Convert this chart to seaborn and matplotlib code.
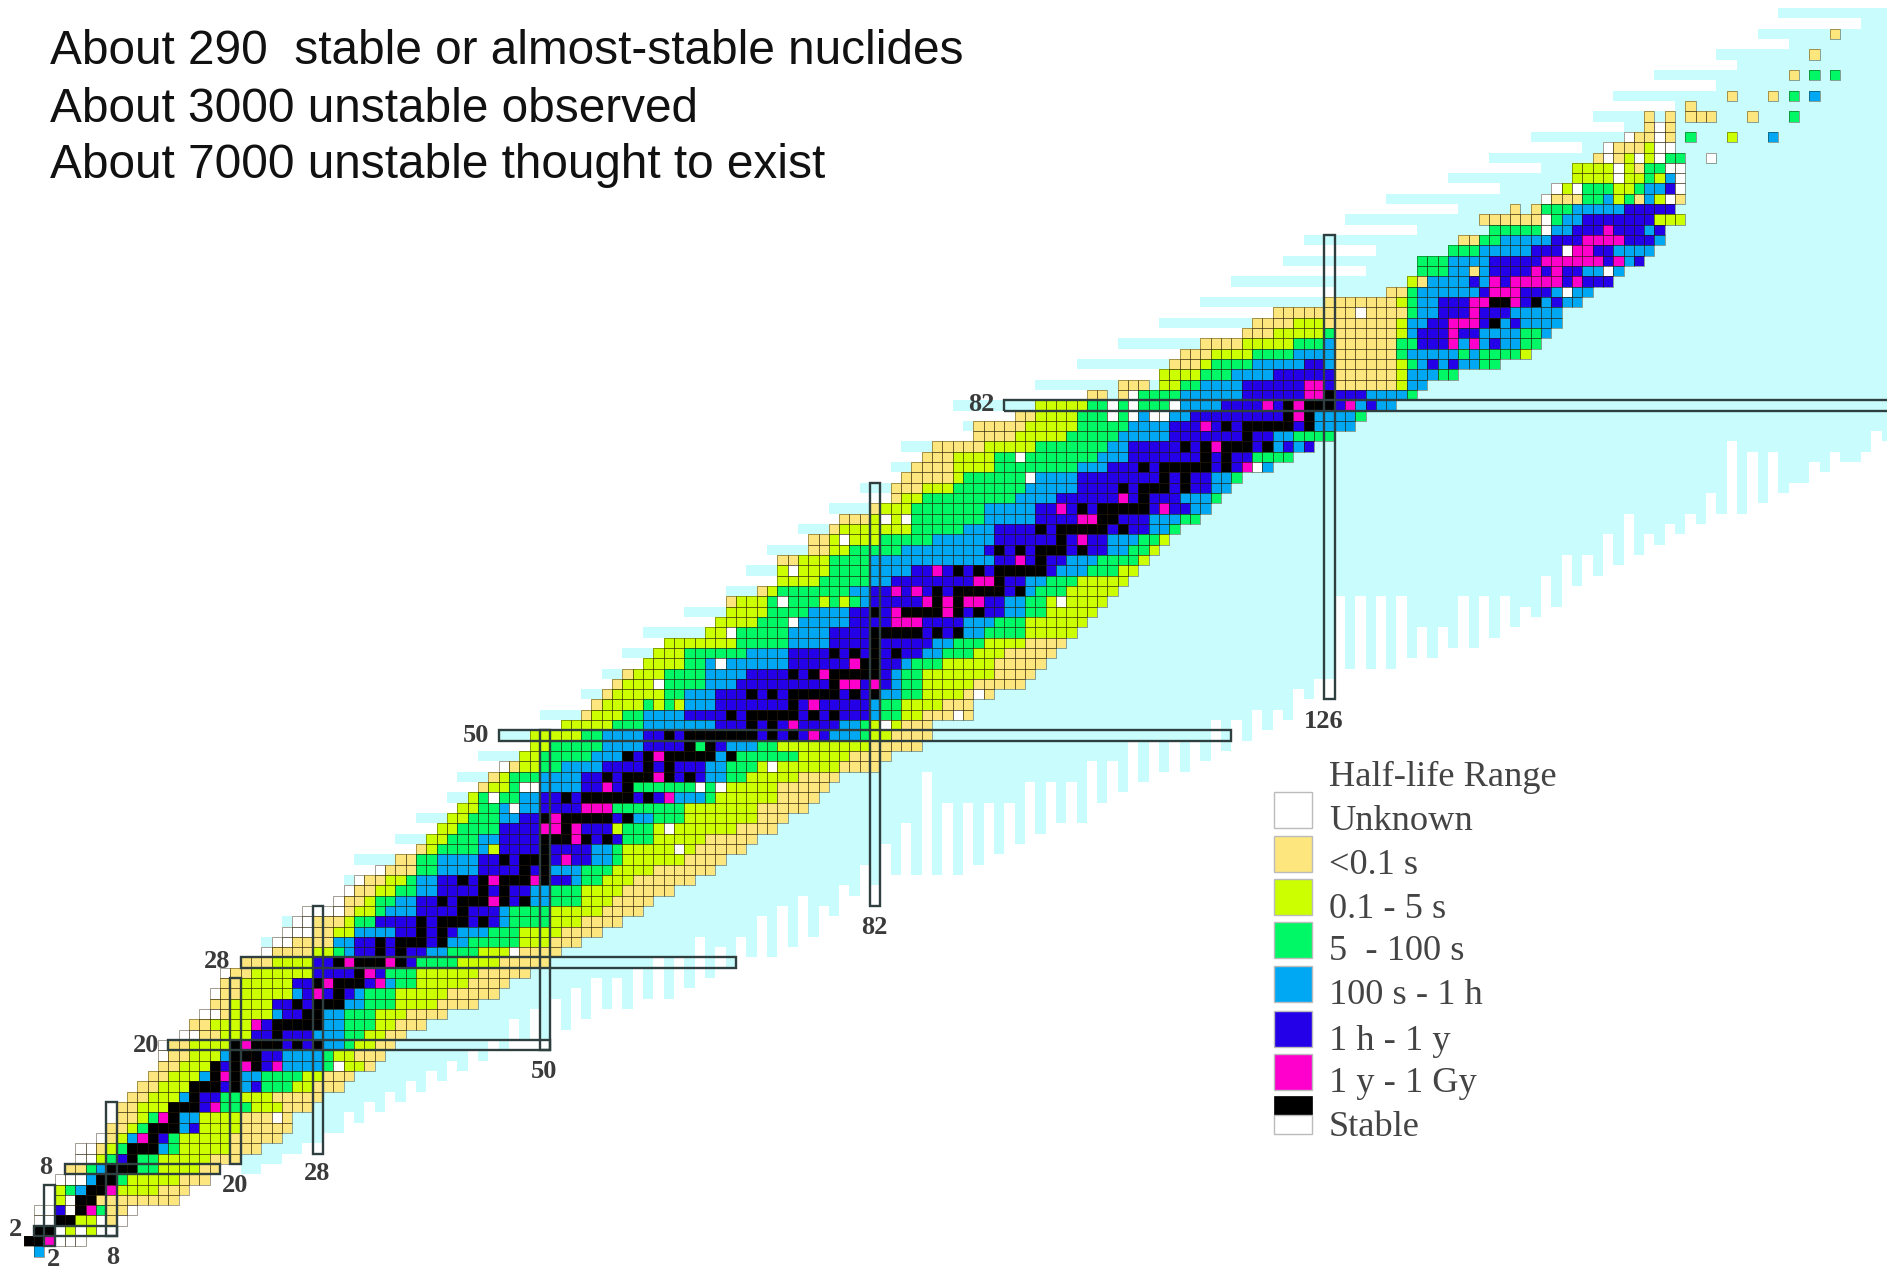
# Chart of the nuclides, coloured by half-life range
import numpy as np
import pandas as pd
import seaborn as sns
import matplotlib
matplotlib.use("Agg")
import matplotlib.pyplot as plt
from matplotlib.collections import LineCollection
from matplotlib.colors import ListedColormap
from matplotlib.patches import Rectangle

# Half-life classes
legend_labels = ["Unknown", "<0.1 s", "0.1 - 5 s", "5  - 100 s", "100 s - 1 h",
                 "1 h - 1 y", "1 y - 1 Gy", "Stable"]
class_colors = ["#ffffff", "#fde67e", "#ccff00", "#00f766", "#00a8f4",
                "#2400e8", "#ff00cc", "#000000"]
class_chars = "uylgbimk"

# Band edges in N, one row per Z:
# unknown, yellow, lime, green, blue, indigo | blue, green, lime, yellow, unknown, end
edges_z01_20 = [
    [0, 0, 0, 0, 0, 0, 0, 0, 0, 0, 3, 6],
    [1, 1, 1, 1, 1, 1, 3, 3, 3, 7, 7, 9],
    [1, 3, 3, 3, 3, 3, 5, 5, 5, 7, 9, 10],
    [1, 3, 3, 3, 3, 3, 7, 7, 8, 8, 10, 11],
    [3, 3, 3, 5, 5, 5, 7, 7, 7, 7, 15, 15],
    [3, 3, 3, 4, 5, 6, 9, 9, 9, 13, 16, 16],
    [3, 6, 6, 6, 6, 7, 9, 9, 10, 15, 18, 18],
    [4, 4, 6, 6, 7, 8, 11, 11, 13, 17, 19, 19],
    [5, 7, 7, 8, 9, 9, 11, 11, 13, 18, 21, 21],
    [5, 7, 8, 9, 10, 10, 13, 14, 15, 20, 23, 23],
    [7, 8, 9, 10, 10, 11, 14, 14, 15, 20, 25, 25],
    [8, 8, 10, 11, 12, 12, 17, 17, 17, 21, 26, 26],
    [9, 9, 11, 12, 13, 13, 15, 17, 17, 21, 26, 26],
    [9, 9, 11, 14, 14, 14, 19, 19, 22, 25, 28, 28],
    [10, 10, 12, 15, 15, 16, 19, 19, 21, 24, 29, 29],
    [11, 11, 13, 16, 16, 16, 23, 23, 26, 28, 31, 31],
    [12, 12, 14, 17, 17, 18, 21, 23, 27, 29, 32, 32],
    [13, 13, 15, 18, 18, 18, 25, 29, 31, 33, 34, 34],
    [13, 14, 16, 19, 19, 20, 25, 29, 30, 32, 35, 35],
    [13, 14, 16, 20, 20, 20, 29, 31, 32, 34, 36, 36],
]
edges_z21_50 = [
    [15, 17, 19, 22, 22, 22, 28, 31, 33, 35, 37, 37],
    [16, 16, 18, 22, 22, 22, 29, 31, 34, 36, 39, 39],
    [17, 19, 20, 24, 24, 25, 29, 31, 34, 37, 41, 41],
    [18, 18, 20, 24, 24, 24, 31, 33, 36, 40, 44, 44],
    [18, 19, 21, 26, 26, 27, 32, 33, 36, 41, 46, 46],
    [19, 19, 21, 26, 26, 26, 35, 36, 38, 43, 47, 47],
    [19, 20, 22, 28, 28, 28, 35, 35, 38, 44, 49, 49],
    [21, 21, 24, 28, 28, 28, 38, 38, 42, 46, 51, 51],
    [23, 24, 28, 30, 31, 32, 39, 41, 44, 48, 52, 52],
    [24, 26, 30, 30, 30, 32, 41, 43, 48, 51, 54, 54],
    [25, 28, 30, 32, 32, 36, 42, 45, 48, 52, 56, 56],
    [26, 28, 31, 32, 34, 34, 46, 47, 51, 54, 58, 58],
    [27, 31, 32, 34, 35, 38, 46, 47, 51, 56, 60, 60],
    [30, 31, 33, 34, 36, 38, 49, 51, 54, 57, 61, 61],
    [31, 32, 34, 36, 38, 40, 49, 51, 54, 58, 63, 63],
    [32, 33, 35, 37, 38, 40, 53, 54, 56, 59, 65, 65],
    [34, 35, 38, 38, 40, 44, 51, 54, 57, 61, 67, 67],
    [36, 36, 38, 38, 40, 44, 55, 57, 58, 64, 68, 68],
    [38, 38, 39, 40, 44, 46, 55, 57, 58, 65, 70, 70],
    [39, 39, 39, 41, 44, 46, 58, 58, 61, 66, 71, 71],
    [40, 40, 40, 42, 46, 46, 57, 57, 61, 69, 73, 73],
    [41, 41, 41, 43, 46, 48, 59, 61, 64, 71, 74, 74],
    [42, 42, 42, 44, 46, 50, 57, 57, 64, 71, 76, 76],
    [43, 43, 43, 44, 48, 50, 63, 66, 67, 73, 77, 77],
    [44, 44, 45, 47, 50, 54, 60, 60, 68, 73, 78, 78],
    [45, 45, 46, 47, 50, 54, 66, 68, 70, 75, 79, 79],
    [46, 47, 48, 50, 52, 56, 66, 68, 71, 79, 83, 83],
    [48, 48, 48, 50, 55, 58, 67, 69, 75, 80, 84, 84],
    [49, 49, 49, 51, 56, 60, 68, 71, 73, 82, 87, 87],
    [49, 49, 49, 54, 56, 60, 78, 81, 82, 84, 88, 88],
]
edges_z51_83 = [
    [52, 52, 52, 57, 60, 67, 79, 81, 82, 85, 88, 88],
    [54, 54, 55, 58, 60, 64, 82, 83, 85, 87, 92, 92],
    [55, 55, 56, 60, 64, 67, 82, 83, 85, 89, 92, 92],
    [56, 56, 57, 62, 64, 67, 83, 85, 87, 91, 94, 94],
    [57, 57, 58, 62, 66, 69, 84, 85, 87, 92, 97, 97],
    [58, 58, 59, 62, 66, 70, 84, 85, 87, 94, 98, 98],
    [60, 60, 60, 64, 66, 74, 85, 86, 89, 94, 99, 99],
    [61, 61, 61, 64, 70, 74, 87, 89, 92, 95, 100, 100],
    [62, 62, 62, 69, 74, 78, 88, 90, 93, 97, 101, 101],
    [66, 66, 66, 69, 74, 78, 91, 93, 97, 102, 102, 102],
    [67, 67, 67, 71, 75, 80, 91, 94, 97, 103, 103, 103],
    [68, 68, 68, 72, 76, 80, 95, 97, 99, 104, 104, 104],
    [68, 68, 69, 72, 81, 82, 95, 97, 99, 105, 105, 105],
    [71, 71, 72, 73, 80, 82, 96, 98, 101, 106, 106, 106],
    [73, 73, 73, 77, 82, 84, 97, 99, 102, 107, 107, 107],
    [73, 73, 73, 78, 82, 86, 100, 103, 106, 108, 108, 108],
    [73, 73, 75, 78, 82, 94, 101, 104, 108, 109, 109, 109],
    [76, 76, 78, 80, 85, 93, 105, 107, 109, 110, 110, 110],
    [76, 76, 78, 83, 88, 94, 105, 108, 110, 111, 111, 111],
    [78, 78, 79, 86, 91, 94, 109, 111, 112, 112, 112, 112],
    [79, 79, 82, 86, 93, 98, 109, 112, 114, 114, 114, 114],
    [82, 82, 83, 86, 93, 98, 113, 115, 115, 115, 115, 115],
    [84, 84, 85, 87, 96, 100, 112, 115, 116, 116, 116, 116],
    [84, 84, 87, 90, 97, 102, 115, 117, 117, 117, 117, 117],
    [85, 85, 90, 91, 98, 102, 115, 117, 118, 118, 118, 118],
    [86, 86, 90, 94, 102, 105, 119, 121, 121, 121, 121, 121],
    [87, 87, 90, 94, 104, 107, 119, 119, 123, 123, 123, 123],
    [88, 88, 93, 98, 105, 107, 125, 125, 125, 125, 125, 125],
    [92, 92, 96, 101, 106, 111, 121, 123, 127, 127, 127, 127],
    [92, 92, 97, 102, 107, 111, 124, 129, 129, 129, 129, 129],
    [96, 96, 98, 102, 107, 113, 124, 129, 130, 130, 130, 130],
    [98, 98, 98, 103, 112, 116, 131, 133, 133, 133, 133, 133],
    [106, 106, 107, 108, 112, 118, 130, 134, 135, 135, 135, 135],
]

# Above lead the pattern breaks up, so these rows are cell by cell: Z, first N, classes
rows_z84_up = [
    (84, 106, "yyy.llggbbbbiiiiiimmiyyyyyylbb"),
    (85, 110, "llllgggbbbbiiiiiiyyyyyylbbbgg"),
    (86, 111, "yyylggggbbbbbiibyyyyyylgbibibbgg"),
    (87, 112, "yyyllllggggbbbbyyyyyygbbbbbgbggggl"),
    (88, 114, "yyyylllllgggbyyyyyyggiiimbmbibbgg"),
    (89, 118, "yyylllllgyyyyyylbiiimiibbbbggb"),
    (90, 119, "yyyylllyyyyyyylbbiimmmikbibbbb"),
    (91, 121, "yyyyyyyyuyyyygbbiiimiiibbbbb"),
    (92, 126, "yyyyyyylgbbiiimmkkmikbibb"),
    (93, 132, "yygbbbbbbimmmiiibubb"),
    (94, 134, "lybbbbibmimmmmmimiii"),
    (95, 135, "gggbbybiiiimimiibbub"),
    (96, 135, "gggbbbbiiiiimmmmmmimbi"),
    (97, 138, "gggbbbbbiiiummiibbbb"),
    (98, 139, "yyggbbbbbiiimmmmiiib"),
    (99, 142, "gggggubbiiimiiibi"),
    (100, 141, "yyyyyyugbbiiiiiiilll"),
    (101, 144, "y.ygggbbbbbiiiii"),
    (102, 147, "uyyyggblgybluy"),
    (103, 148, "ulugggllgbbiu"),
    (104, 150, "llllullglbu"),
    (105, 150, "llllulygguu"),
    (106, 152, "yuylulugg"),
    (106, 163, "u"),
    (107, 153, "uyyyluu"),
    (108, 155, "uyyuy"),
    (108, 161, "g"),
    (108, 165, "l"),
    (108, 169, "b"),
    (109, 157, "yuy"),
    (110, 157, "y.y"),
    (110, 161, "yyy"),
    (110, 167, "y"),
    (110, 171, "g"),
    (111, 161, "y"),
    (112, 165, "y"),
    (112, 169, "y"),
    (112, 171, "g"),
    (112, 173, "b"),
    (114, 171, "y"),
    (114, 173, "g"),
    (114, 175, "g"),
    (116, 173, "y"),
    (118, 175, "y"),
]

# Stable nuclides, N values by Z
stable_n = {
    1: [0, 1], 2: [1, 2], 3: [3, 4], 4: [5], 5: [5, 6], 6: [6, 7], 7: [7, 8],
    8: [8, 9, 10], 9: [10], 10: [10, 11, 12], 11: [12], 12: [12, 13, 14],
    13: [14], 14: [14, 15, 16], 15: [16], 16: [16, 17, 18, 20], 17: [18, 20],
    18: [18, 20, 22], 19: [20, 21, 22], 20: [20, 22, 23, 24, 26, 28], 21: [24],
    22: [24, 25, 26, 27, 28], 23: [27, 28], 24: [26, 28, 29, 30], 25: [30],
    26: [28, 30, 31, 32], 27: [32], 28: [30, 32, 33, 34, 36], 29: [34, 36],
    30: [34, 36, 37, 38, 40], 31: [38, 40], 32: [38, 40, 41, 42, 44], 33: [42],
    34: [40, 42, 43, 44, 46, 48], 35: [44, 46], 36: [42, 44, 46, 47, 48, 50],
    37: [48, 50], 38: [46, 48, 49, 50], 39: [50], 40: [50, 51, 52, 54, 56],
    41: [52], 42: [50, 52, 53, 54, 55, 56, 58], 44: [52, 54, 55, 56, 57, 58, 60],
    45: [58], 46: [56, 58, 59, 60, 62, 64], 47: [60, 62],
    48: [58, 60, 62, 63, 64, 65, 66, 68], 49: [64, 66],
    50: [62, 64, 65, 66, 67, 68, 69, 70, 72, 74], 51: [70, 72],
    52: [68, 70, 71, 72, 73, 74, 76, 78], 53: [74],
    54: [70, 72, 74, 75, 76, 77, 78, 80, 82], 55: [78],
    56: [74, 76, 78, 79, 80, 81, 82], 57: [81, 82], 58: [78, 80, 82, 84], 59: [82],
    60: [82, 83, 84, 85, 86, 88, 90], 62: [82, 85, 86, 87, 88, 90, 92], 63: [88, 90],
    64: [88, 90, 91, 92, 93, 94, 96], 65: [94], 66: [90, 92, 94, 95, 96, 97, 98],
    67: [98], 68: [94, 96, 98, 99, 100, 102], 69: [100],
    70: [98, 100, 101, 102, 103, 104, 106], 71: [104, 105],
    72: [102, 104, 105, 106, 107, 108], 73: [108], 74: [106, 108, 109, 110, 112],
    75: [110, 112], 76: [108, 110, 111, 112, 113, 114, 116], 77: [114, 116],
    78: [112, 114, 116, 117, 118, 120], 79: [118], 80: [116, 118, 119, 120, 121, 122, 124],
    81: [122, 124], 82: [122, 124, 125, 126], 83: [126], 90: [142],
    92: [142, 143, 146],
}

# Single cells that break the bands, as (Z, N)
magenta_cells = [
    (1, 2), (4, 6), (6, 8), (11, 11), (13, 13), (14, 18), (17, 19), (18, 21),
    (18, 24), (20, 21), (22, 22), (25, 28), (26, 29), (26, 34), (27, 33), (28, 31),
    (28, 35), (34, 45), (36, 45), (36, 49), (38, 52), (40, 53), (41, 50), (41, 51),
    (41, 53), (42, 51), (43, 54), (43, 55), (43, 56), (44, 62), (45, 56), (46, 61),
    (48, 61), (50, 76), (51, 74), (53, 76), (55, 79), (55, 80), (55, 82), (56, 77),
    (57, 80), (61, 84), (61, 85), (61, 86), (62, 84), (62, 89), (63, 87), (63, 89),
    (63, 91), (63, 92), (64, 84), (64, 86), (65, 92), (65, 93), (66, 88), (67, 96),
    (69, 102), (71, 102), (71, 103), (72, 100), (72, 110), (73, 106), (76, 118),
    (78, 112), (78, 115), (80, 114), (81, 123), (82, 120), (82, 123), (82, 128),
    (83, 124), (83, 125),
]
unknown_cells = [
    (2, 3), (2, 5), (3, 7), (4, 4), (5, 4), (13, 24), (18, 30), (29, 47), (39, 63),
    (41, 62), (43, 47), (44, 45), (45, 48), (45, 49), (45, 65), (45, 67), (52, 90),
    (47, 72), (51, 83), (54, 92), (55, 61), (57, 67), (60, 68), (61, 74),
    (63, 73), (63, 100), (66, 74), (69, 79), (71, 83), (71, 85), (75, 97), (76, 119),
    (77, 96), (81, 105), (81, 107), (81, 109), (81, 110), (82, 105), (82, 107),
    (82, 111), (83, 107),
]
blue_cells = [(0, 1), (12, 15), (16, 21), (78, 121), (78, 123), (82, 129)]
green_cells = [(43, 57), (45, 59), (49, 65)]
lime_cells = [(39, 45), (41, 57), (53, 61), (53, 63), (63, 77), (63, 79)]
yellow_cells = [(83, 103), (83, 104)]

# Pale region of nuclides thought to exist: first N per Z (Z = 1..120)
cyan_first_n = [
    3, 3, 1, 1, 3, 3, 3, 4, 5, 5, 7, 8, 9, 9, 10, 11, 12, 10, 13, 12,
    15, 15, 17, 16, 18, 18, 19, 20, 23, 23, 25, 25, 27, 30, 31, 31, 34, 32, 38, 36,
    40, 38, 42, 41, 44, 42, 46, 44, 49, 46, 52, 50, 55, 54, 57, 56, 60, 58, 62, 60,
    67, 64, 68, 68, 73, 70, 73, 72, 76, 75, 79, 78, 84, 81, 85, 84, 87, 85, 92, 91,
    96, 90, 103, 98, 110, 102, 112, 106, 118, 110, 121, 114, 127, 117, 130, 122,
    131, 124, 135, 128, 139, 132, 143, 138, 147, 142, 151, 146, 155, 152, 160, 154,
    164, 158, 166, 164, 171, 168, 178, 170,
]
# and its lowest Z per N (N = 21..180)
cyan_lowest_z = [
    8, 8, 9, 9, 10, 10, 11, 11, 12, 12,
    14, 13, 15, 14, 16, 15, 17, 16, 18, 17,
    19, 18, 20, 19, 21, 20, 23, 21, 24, 21,
    25, 22, 26, 23, 27, 24, 27, 24, 28, 25,
    29, 25, 29, 26, 31, 27, 30, 28, 31, 29,
    33, 29, 34, 30, 35, 31, 34, 33, 36, 35,
    38, 36, 40, 37, 42, 37, 47, 37, 44, 37,
    44, 38, 44, 39, 44, 40, 46, 41, 46, 42,
    46, 42, 48, 44, 48, 45, 50, 46, 50, 47,
    50, 47, 50, 48, 52, 49, 52, 50, 53, 51,
    53, 52, 55, 54, 56, 56, 64, 57, 64, 57,
    64, 57, 64, 58, 61, 58, 61, 59, 64, 59,
    64, 60, 64, 61, 63, 62, 66, 63, 68, 65,
    68, 66, 70, 67, 72, 68, 70, 69, 71, 70,
    72, 71, 74, 72, 79, 72, 78, 73, 78, 74,
    75, 75, 77, 76, 78, 77, 77, 78, 80, 79,
]

# Magic number boxes: magic number, start, end of the long side
magic_rows = [(2, 1, 9), (8, 4, 19), (20, 14, 51), (28, 21, 69), (50, 46, 117), (82, 95, 183)]
magic_cols = [(2, 1, 7), (8, 2, 15), (20, 9, 27), (28, 10, 34), (50, 20, 51), (82, 34, 75), (126, 54, 99)]

# Labels of the boxes, centre in pixels
magic_labels = [("82", 981, 402), ("50", 476, 733), ("28", 217, 959), ("20", 146, 1042),
                ("8", 46, 1165), ("2", 16, 1227), ("126", 1324, 718), ("82", 874, 924),
                ("50", 544, 1069), ("28", 317, 1171), ("20", 235, 1183), ("8", 113, 1254),
                ("2", 53, 1256)]
header_lines = ["About 290  stable or almost-stable nuclides",
                "About 3000 unstable observed",
                "About 7000 unstable thought to exist"]

W, H = 1887, 1274
N_SIZE, Z_SIZE = 184, 123

# Build the class grid
grid = np.full((Z_SIZE, N_SIZE), np.nan)
band_order = [0, 1, 2, 3, 4, 5, 4, 3, 2, 1, 0]
for z, row in enumerate(edges_z01_20 + edges_z21_50 + edges_z51_83, start=1):
    for i, cls in enumerate(band_order):
        grid[z, row[i]:row[i + 1]] = cls
for z, first_n, cells in rows_z84_up:
    for k, ch in enumerate(cells):
        if ch != ".":
            grid[z, first_n + k] = class_chars.index(ch)
for cells, cls in [(yellow_cells, 1), (lime_cells, 2), (green_cells, 3), (blue_cells, 4),
                   (unknown_cells, 0), (magenta_cells, 6)]:
    for z, n in cells:
        grid[z, n] = cls
for z, ns in stable_n.items():
    for n in ns:
        grid[z, n] = 7

# Pale background layer
pale = np.zeros((Z_SIZE, N_SIZE), dtype=bool)
for z, first_n in enumerate(cyan_first_n, start=1):
    for n, low in enumerate(cyan_lowest_z, start=21):
        if n >= first_n and z >= low:
            pale[z, n] = True
    pale[z, 181:] = pale[z, 180]

fig = plt.figure(figsize=(W / 100, H / 100), dpi=100)
ax = fig.add_axes([0, 0, 1, 1])

sns.heatmap(pd.DataFrame(pale.astype(float)), mask=~pale, cmap=ListedColormap(["#c9fdfd"]),
            cbar=False, xticklabels=False, yticklabels=False, ax=ax)
sns.heatmap(pd.DataFrame(grid), mask=np.isnan(grid), cmap=ListedColormap(class_colors),
            vmin=-0.5, vmax=7.5, cbar=False, xticklabels=False, yticklabels=False, ax=ax)

# Thin cell outlines, only round the cells that exist
outlines = []
for z, n in zip(*np.nonzero(~np.isnan(grid))):
    outlines += [[(n, z), (n + 1, z)], [(n, z + 1), (n + 1, z + 1)],
                 [(n, z), (n, z + 1)], [(n + 1, z), (n + 1, z + 1)]]
ax.add_collection(LineCollection(outlines, colors=[(0.15, 0.1, 0.0, 0.42)], linewidths=0.7, zorder=4))

# Same scale as the picture: 10.32 px per nuclide on both axes
ax.set_xlim(-2.31, 180.53)
ax.set_ylim(-1.67, 121.78)
ax.set_xlabel("")
ax.set_ylabel("")
ax.axis("off")

box_style = dict(facecolor="none", edgecolor="#2f3f3f", linewidth=1.7, zorder=5)
for m, start, end in magic_rows:
    ax.add_patch(Rectangle((start, m), end - start, 1, **box_style))
for m, start, end in magic_cols:
    ax.add_patch(Rectangle((m, start), 1, end - start, **box_style))

serif = "Liberation Serif"
for label, px, py in magic_labels:
    fig.text(px / W, 1 - (py + 3) / H, label, family=serif, fontsize=19, fontweight="bold",
             color="#3a3a3a", ha="center", va="center")

for line, py in zip(header_lines, [51, 109, 166]):
    fig.text(50 / W, 1 - py / H, line, family="Liberation Sans", fontsize=34.4,
             color="#111111", ha="left", va="center")

# Legend, placed by hand like the original
fig.text(1329 / W, 1 - 777 / H, "Half-life Range", family=serif, fontsize=26.2,
         color="#444444", ha="left", va="center")
legend_y = [818, 862, 905, 948, 992, 1037, 1080, 1123]
for label, color, py in zip(legend_labels, class_colors, legend_y):
    fig.text(1329 / W, 1 - (py + 4) / H, label, family=serif, fontsize=26.2, color="#444444",
             ha="left", va="center")
    if label == "Stable":
        fig.add_artist(Rectangle((1274 / W, 1 - 1115 / H), 38 / W, 19 / H, facecolor=color,
                                 edgecolor="#000000", linewidth=0.5,
                                 transform=fig.transFigure))
        fig.add_artist(Rectangle((1274 / W, 1 - 1134 / H), 38 / W, 19 / H, facecolor="#ffffff",
                                 edgecolor="#bbbbbb", linewidth=1,
                                 transform=fig.transFigure))
    else:
        fig.add_artist(Rectangle((1274 / W, 1 - (py - 8 + 18) / H), 38 / W, 36 / H, facecolor=color,
                                 edgecolor="#bbbbbb", linewidth=1, transform=fig.transFigure))

fig.savefig("out.png", dpi=100)
